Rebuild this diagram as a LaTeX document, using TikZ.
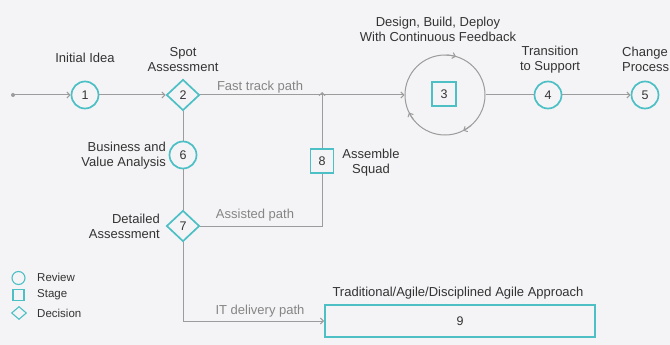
\documentclass[tikz,border=0pt]{standalone}
\usepackage{fontspec}
\setmainfont{Liberation Sans}
\usetikzlibrary{arrows.meta,shapes.geometric}
\definecolor{bg}{HTML}{F4F4F6}
\definecolor{tealc}{HTML}{4DC0C5}
\definecolor{linec}{HTML}{9C9C9C}
\definecolor{txt}{HTML}{333333}
\definecolor{pathtxt}{HTML}{858585}
\tikzset{
  numfont/.style={text=txt, font=\fontsize{12.5}{14}\selectfont},
  review/.style={circle, draw=tealc, line width=1.7pt, minimum size=27pt, inner sep=0pt, numfont},
  stagebox/.style={rectangle, draw=tealc, line width=1.7pt, minimum width=23pt, minimum height=23pt, inner sep=0pt, numfont},
  decision/.style={diamond, draw=tealc, line width=1.7pt, minimum width=33pt, minimum height=31pt, inner sep=0pt, numfont},
  conn/.style={draw=linec, line width=1pt},
  arr/.style={conn, -{Straight Barb[length=3pt,width=6pt]}},
  lbl/.style={text=txt, font=\fontsize{13}{15}\selectfont, align=center, inner sep=0pt},
  pathlbl/.style={text=pathtxt, font=\fontsize{13}{15}\selectfont, inner sep=0pt},
  legtxt/.style={text=txt, font=\fontsize{11.5}{13}\selectfont, anchor=west, inner sep=0pt},
}
\begin{document}
\begin{tikzpicture}[x=1pt,y=-1pt]
  % canvas
  \fill[bg] (0,0) rectangle (670,345);
  \useasboundingbox (0,0) rectangle (670,345);

  % main line nodes
  \coordinate (start) at (13,95);
  \fill[linec] (start) circle (2pt);
  \node[review] (n1) at (85,95) {1};
  \node[decision] (n2) at (183,95) {2};
  \node[circle, draw=linec, line width=1pt, minimum size=80pt, inner sep=0pt] (loop) at (445,95) {};
  \node[stagebox, minimum width=24pt, minimum height=24pt] (n3) at (444,94) {3};
  \node[review] (n4) at (548,95) {4};
  \node[review] (n5) at (645,95) {5};

  % lower branch nodes
  \node[review] (n6) at (183,155) {6};
  \node[decision] (n7) at (183,226) {7};
  \node[stagebox, minimum height=24pt] (n8) at (322,161) {8};
  \node[stagebox, minimum width=270pt, minimum height=32pt] (n9) at (460,321) {9};

  % helper points
  \coordinate (j8) at (n8.south |- n7.east);
  \coordinate (fast) at (n8.north |- n2.east);
  \coordinate (j9) at (n7.south |- n9.west);

  % connectors
  \draw[arr] (start) -- (n1.west);
  \draw[arr] (n1.east) -- (n2.west);
  \draw[arr] (n2.east) -- (loop.west);
  \draw[conn] (loop.east) -- (n4.west);
  \draw[arr] (n4.east) -- (n5.west);
  \draw[conn] (n2.south) -- (n6.north);
  \draw[conn] (n6.south) -- (n7.north);
  \draw[conn] (n7.east) -- (j8) -- (n8.south);
  \draw[arr] (n8.north) -- ([yshift=3pt]fast);
  \draw[arr] (n7.south) -- (j9) -- (n9.west);

  % feedback arrows on the loop (clockwise)
  \draw[arr] (loop.center) ++(-88:40) arc[start angle=-88, end angle=-74, radius=40];
  \draw[arr] (loop.center) ++(50:40) arc[start angle=50, end angle=63, radius=40];
  \draw[arr] (loop.center) ++(142:40) arc[start angle=142, end angle=154, radius=40];

  % labels
  \node[lbl] (l1) at (85,58) {Initial Idea};
  \node[lbl] (l2) at (183,59.5) {Spot\\Assessment};
  \node[lbl] (l3) at (438,29.5) {Design, Build, Deploy\\With Continuous Feedback};
  \node[lbl] (l4) at (550,59.5) {Transition\\to Support};
  \node[lbl, align=left, anchor=west] (l5) at (622,59.5) {Change\\Process};
  \node[lbl, align=right, anchor=east] (l6) at (166,155.5) {Business and\\Value Analysis};
  \node[lbl] (l8) at (371,163) {Assemble\\Squad};
  \node[lbl, align=right, anchor=east] (l7) at (160,226.5) {Detailed\\Assessment};
  \node[lbl] (l9) at (458,293) {Traditional/Agile/Disciplined Agile Approach};

  \node[pathlbl] (pf) at (260,87) {Fast track path};
  \node[pathlbl] (pa) at (255,215) {Assisted path};
  \node[pathlbl] (pi) at (260,311) {IT delivery path};

  % legend
  \node[circle, draw=tealc, line width=1.1pt, minimum size=13pt, inner sep=0pt] (kr) at (18.5,278) {};
  \node[rectangle, draw=tealc, line width=1.1pt, minimum width=11pt, minimum height=11pt, inner sep=0pt] (ks) at (18.5,295) {};
  \node[diamond, draw=tealc, line width=1.1pt, minimum width=15pt, minimum height=13pt, inner sep=0pt] (kd) at (19,313) {};
  \node[legtxt] (tr) at (37,277) {Review};
  \node[legtxt] (ts) at (37,295) {Stage};
  \node[legtxt] (td) at (37,313) {Decision};
\end{tikzpicture}
\end{document}
